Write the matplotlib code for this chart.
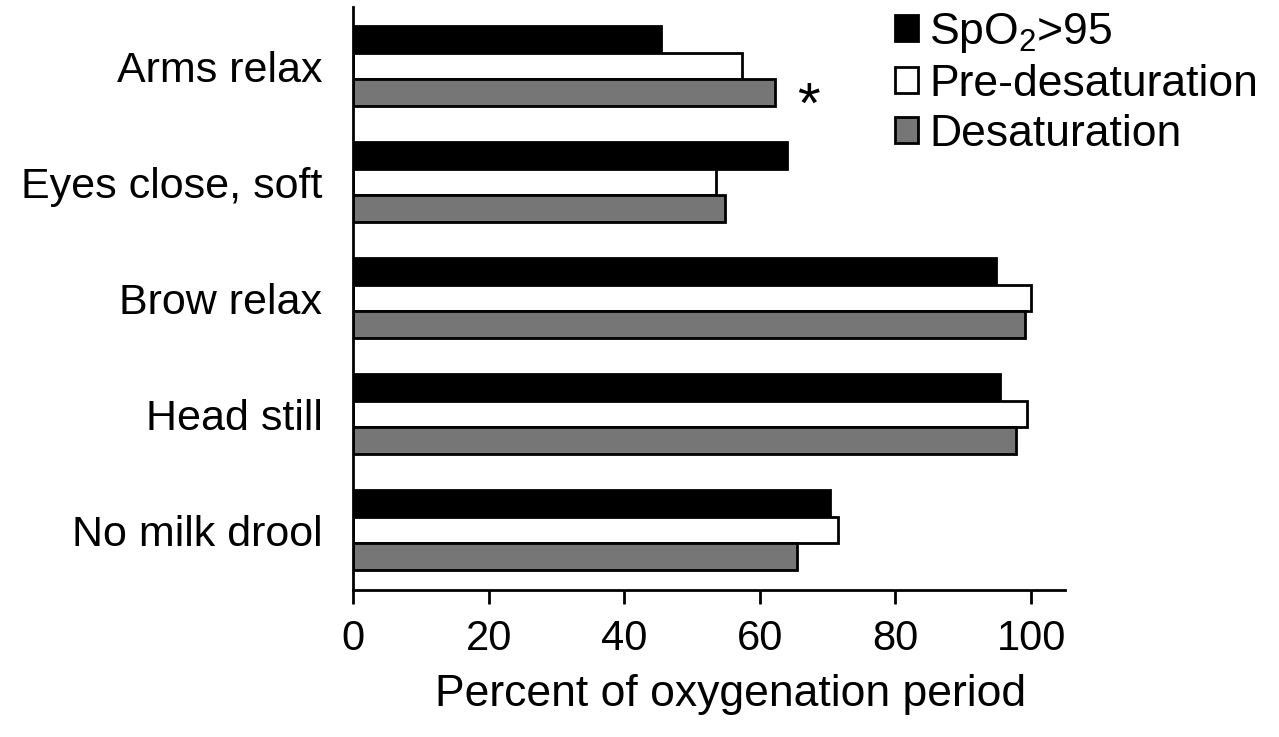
import numpy as np
import matplotlib
matplotlib.use('Agg')
import matplotlib.pyplot as plt
from matplotlib.patches import Patch

plt.rcParams['font.family'] = ['Liberation Sans', 'DejaVu Sans']
plt.rcParams['mathtext.fontset'] = 'custom'
plt.rcParams['mathtext.rm'] = 'Liberation Sans'
plt.rcParams['mathtext.default'] = 'regular'

# data
categories = ['Arms relax', 'Eyes close, soft', 'Brow relax', 'Head still', 'No milk drool']
spo2_gt95 = [45.4, 64.0, 94.8, 95.4, 70.3]
pre_desat = [57.3, 53.6, 100.0, 99.4, 71.5]
desat = [62.2, 54.8, 99.1, 97.8, 65.5]
series_names = ['SpO$_2$>95', 'Pre-desaturation', 'Desaturation']
star_label = '*'
star_index = 0

colors = ['black', 'white', '#767676']

fig = plt.figure(figsize=(12.79, 7.37), dpi=100)
ax = fig.add_axes([0.276, 0.1995, 0.5567, 0.791])

y = np.arange(len(categories))
h = 0.228
for k, vals in enumerate([spo2_gt95, pre_desat, desat]):
    ax.barh(y + (k - 1) * h, vals, height=h, color=colors[k],
            edgecolor='black', linewidth=2)

# significance mark next to the desaturation bar
ax.text(desat[star_index] + 5.0, y[star_index] + 0.36, star_label,
        fontsize=42, ha='center', va='center')

ax.set_xlim(0, 105)
ax.set_ylim(4.517, -0.509)
ax.set_xticks([0, 20, 40, 60, 80, 100])
ax.set_yticks(y)
ax.set_yticklabels(categories)

for s in ['top', 'right']:
    ax.spines[s].set_visible(False)
for s in ['left', 'bottom']:
    ax.spines[s].set_linewidth(2)

ax.tick_params(axis='x', length=10, width=2, direction='out', pad=11, labelsize=30)
ax.tick_params(axis='y', length=0, pad=22, labelsize=31)

ax.set_xlabel('Percent of oxygenation period', fontsize=32)
ax.xaxis.set_label_coords(0.53, -0.145)

handles = [Patch(facecolor=c, edgecolor='black', linewidth=2) for c in colors]
fig.legend(handles, series_names, loc='upper left',
           bbox_to_anchor=(895 / 1279, 1 - 11 / 737), frameon=False,
           fontsize=32, handlelength=0.52, handleheight=0.52,
           handletextpad=0.25, labelspacing=0.2, borderpad=0, borderaxespad=0)

fig.savefig('out.png', dpi=100)
